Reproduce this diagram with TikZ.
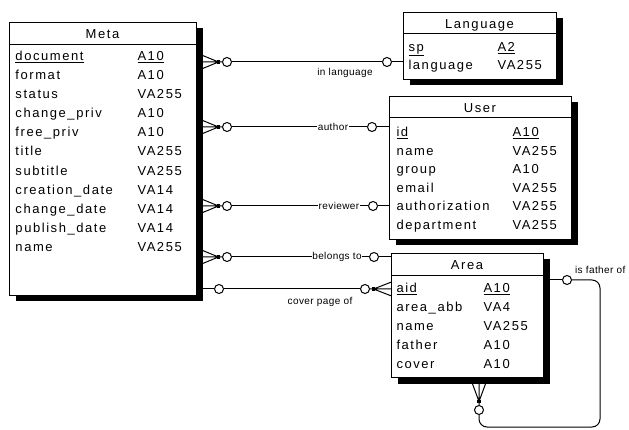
\documentclass[tikz,border=0pt]{standalone}
\usepackage{fontspec}
\setmainfont{Liberation Sans}
\newfontfamily\cellfont{Liberation Sans}[LetterSpace=12]
\newfontfamily\lblfont{Liberation Sans}[LetterSpace=4]
\usetikzlibrary{shadows}
\begin{document}
\begin{tikzpicture}[x=1pt,y=-1pt,line width=1pt,
  tbl/.style={draw,fill=white,anchor=north west,inner sep=0,
    drop shadow={shadow xshift=6pt,shadow yshift=-6pt,fill=black,opacity=1}},
  ttl/.style={font=\cellfont\fontsize{13}{14}\selectfont,inner sep=0,anchor=base},
  cell/.style={font=\cellfont\fontsize{13}{14}\selectfont,inner sep=0,anchor=base west},
  rel/.style={font=\lblfont\fontsize{10}{11}\selectfont,inner sep=0.6pt,fill=white},
  circ/.style={circle,draw,fill=white,minimum size=9pt,inner sep=0},
  crow/.pic={\draw (0,0) -- (#1,0) (3.5,0) -- (#1,-7) (3.5,0) -- (#1,7);
             \fill (2,-1.6) rectangle (5,1.6);}
]
\useasboundingbox (0,0) rectangle (629,430);

% ---------- tables ----------
\node[tbl,minimum width=187pt,minimum height=273pt] (meta) at (9,22) {};
\draw (9,45) -- (196,45);
\node[ttl] (meta-title) at (102.5,38.5) {Meta};
\foreach \n/\t [count=\i from 0] in {\underline{document}/\underline{A10},format/A10,status/VA255,change\_priv/A10,free\_priv/A10,title/VA255,subtitle/VA255,creation\_date/VA14,change\_date/VA14,publish\_date/VA14,name/VA255}{
  \node[cell] (meta-n\i) at (15,{60.5+19.1*\i}) {\n};
  \node[cell] (meta-t\i) at (137,{60.5+19.1*\i}) {\t};
}

\node[tbl,minimum width=153pt,minimum height=67pt] (lang) at (403,12) {};
\draw (403,34) -- (556,34);
\node[ttl] (lang-title) at (479.5,28.5) {Language};
\foreach \n/\t [count=\i from 0] in {\underline{sp}/\underline{A2},language/VA255}{
  \node[cell] (lang-n\i) at (408,{51.5+18*\i}) {\n};
  \node[cell] (lang-t\i) at (497,{51.5+18*\i}) {\t};
}

\node[tbl,minimum width=182pt,minimum height=143pt] (user) at (389,96) {};
\draw (389,118) -- (571,118);
\node[ttl] (user-title) at (480,112.5) {User};
\foreach \n/\t [count=\i from 0] in {\underline{id}/\underline{A10},name/VA255,group/A10,email/VA255,authorization/VA255,department/VA255}{
  \node[cell] (user-n\i) at (396,{136.5+18.6*\i}) {\n};
  \node[cell] (user-t\i) at (512,{136.5+18.6*\i}) {\t};
}

\node[tbl,minimum width=152pt,minimum height=124pt] (area) at (391,253) {};
\draw (391,276) -- (543,276);
\node[ttl] (area-title) at (467,269.5) {Area};
\foreach \n/\t [count=\i from 0] in {\underline{aid}/\underline{A10},area\_abb/VA4,name/VA255,father/A10,cover/A10}{
  \node[cell] (area-n\i) at (396,{292.5+19*\i}) {\n};
  \node[cell] (area-t\i) at (483,{292.5+19*\i}) {\t};
}

% ---------- relationships ----------
% in language
\node[circ] (c1a) at (227,62) {};
\node[circ] (c1b) at (387,62) {};
\pic[rotate=180] at (c1a.west) {crow=20.5};
\draw (c1a) -- (c1b);
\draw (c1b) -- (lang.west |- c1b);
\node[rel,fill=none,anchor=base] (l1) at (345,75.5) {in language};

% author
\node[circ] (c2a) at (227,127) {};
\node[circ] (c2b) at (372,127) {};
\pic[rotate=180] at (c2a.west) {crow=20.5};
\draw (c2a) -- (c2b);
\draw (c2b) -- (user.west |- c2b);
\node[rel] (l2) at (333,127) {author};

% reviewer
\node[circ] (c3a) at (227,206) {};
\node[circ] (c3b) at (373,206) {};
\pic[rotate=180] at (c3a.west) {crow=20.5};
\draw (c3a) -- (c3b);
\draw (c3b) -- (user.west |- c3b);
\node[rel] (l3) at (339,206) {reviewer};

% belongs to
\node[circ] (c4a) at (227,257) {};
\node[circ] (c4b) at (374,257) {};
\pic[rotate=180] at (c4a.west) {crow=20.5};
\draw (c4a) -- (c4b);
\draw (c4b) -- (area.west |- c4b);
\node[rel] (l4) at (337,257) {belongs to};

% cover page of
\node[circ] (c5a) at (219,289) {};
\node[circ] (c5b) at (365,289) {};
\draw (meta.east |- c5a) -- (c5a);
\draw (c5a) -- (c5b);
\pic at (c5b.east) {crow=21.5};
\node[rel,fill=none,anchor=base] (l5) at (320,304.5) {cover page of};

% is father of
\node[circ] (c6a) at (567,280) {};
\node[circ] (c6b) at (479,410) {};
\draw (area.east |- c6a) -- (c6a);
\draw[rounded corners=8pt] (c6a) -- (600,280) -- (600,427) -- (479,427) -- (c6b);
\pic[rotate=90] at (c6b.north) {crow=22.5};
\node[rel,fill=none,anchor=base west] (l6) at (574,273.5) {is father of};
\end{tikzpicture}
\end{document}
